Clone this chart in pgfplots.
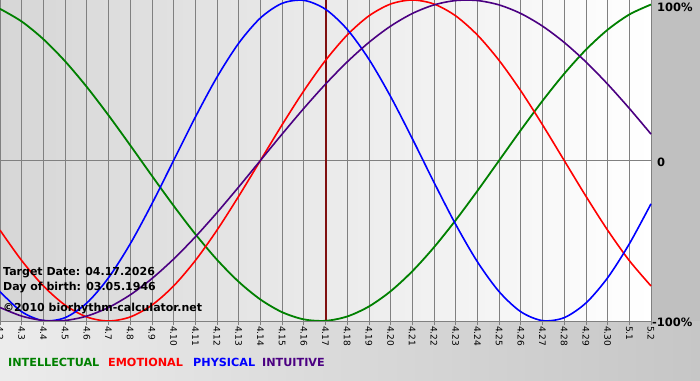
\documentclass[border=0pt]{standalone}
\usepackage{fontspec}
\setmainfont{DejaVu Sans}
\usepackage{pgfplots}
\pgfplotsset{compat=1.18}
\definecolor{intel}{RGB}{0,128,0}
\definecolor{emot}{RGB}{255,0,0}
\definecolor{phys}{RGB}{0,0,255}
\definecolor{intu}{RGB}{75,0,130}
\definecolor{tline}{RGB}{128,16,16}
\definecolor{gridc}{RGB}{128,128,128}
\definecolor{plotleft}{RGB}{214,214,214}
\definecolor{strip}{RGB}{192,192,192}
\definecolor{bandleft}{RGB}{236,236,236}
\definecolor{bandright}{RGB}{198,198,198}
\begin{document}
\begin{tikzpicture}
\path[use as bounding box] (0,0) rectangle (700pt,380pt);
\shade[left color=bandleft, right color=bandright] (0,0) rectangle (700pt,59pt);
\fill[strip] (651pt,59pt) rectangle (700pt,380pt);
\shade[left color=plotleft, right color=white] (0pt,59pt) rectangle (651pt,380pt);
\begin{axis}[
  at={(0pt,59pt)}, anchor=south west,
  width=651pt, height=321pt, scale only axis,
  xmin=0, xmax=30, ymin=-100, ymax=100,
  axis line style={draw=none},
  xtick={0,...,30},
  xticklabels={4.2,4.3,4.4,4.5,4.6,4.7,4.8,4.9,4.10,4.11,4.12,4.13,4.14,4.15,4.16,4.17,4.18,4.19,4.20,4.21,4.22,4.23,4.24,4.25,4.26,4.27,4.28,4.29,4.30,5.1,5.2},
  xtick pos=bottom, tick align=outside, major tick length=4pt,
  xtick style={gridc, line width=0.8pt},
  x tick label style={rotate=-90, anchor=west, font=\fontsize{9}{9}\selectfont, inner sep=1pt},
  ytick={0}, yticklabels={}, ytick style={draw=none},
  grid=major, grid style={gridc, line width=0.8pt},
  extra x ticks={15}, extra x tick labels={},
  extra x tick style={grid style={tline, line width=2pt}, major tick length=0pt},
  clip=false,
]
% INTELLECTUAL (33 days)
\addplot[intel, line width=1.8pt, smooth] coordinates {
(0,94.50) (1,86.60) (2,75.57) (3,61.82) (4,45.82) (5,28.17) (6,9.51) (7,-9.51)
(8,-28.17) (9,-45.82) (10,-61.82) (11,-75.57) (12,-86.60) (13,-94.50) (14,-98.98)
(15,-99.89) (16,-97.18) (17,-90.96) (18,-81.46) (19,-69.01) (20,-54.06) (21,-37.17)
(22,-18.93) (23,0) (24,18.93) (25,37.17) (26,54.06) (27,69.01) (28,81.46) (29,90.96) (30,97.18)};
% EMOTIONAL (28 days)
\addplot[emot, line width=1.6pt, smooth] coordinates {
(0,-43.39) (1,-62.35) (2,-78.18) (3,-90.10) (4,-97.49) (5,-100) (6,-97.49) (7,-90.10)
(8,-78.18) (9,-62.35) (10,-43.39) (11,-22.25) (12,0) (13,22.25) (14,43.39) (15,62.35)
(16,78.18) (17,90.10) (18,97.49) (19,100) (20,97.49) (21,90.10) (22,78.18) (23,62.35)
(24,43.39) (25,22.25) (26,0) (27,-22.25) (28,-43.39) (29,-62.35) (30,-78.18)};
% PHYSICAL (23 days)
\addplot[phys, line width=1.6pt, smooth] coordinates {
(0,-81.70) (1,-94.23) (2,-99.77) (3,-97.91) (4,-88.79) (5,-73.08) (6,-51.96) (7,-26.98)
(8,0) (9,26.98) (10,51.96) (11,73.08) (12,88.79) (13,97.91) (14,99.77) (15,94.23)
(16,81.70) (17,63.11) (18,39.84) (19,13.62) (20,-13.62) (21,-39.84) (22,-63.11)
(23,-81.70) (24,-94.23) (25,-99.77) (26,-97.91) (27,-88.79) (28,-73.08) (29,-51.96) (30,-26.98)};
% INTUITIVE (38 days)
\addplot[intu, line width=1.6pt, smooth] coordinates {
(0,-91.58) (1,-96.94) (2,-99.66) (3,-99.66) (4,-96.94) (5,-91.58) (6,-83.72) (7,-73.57)
(8,-61.42) (9,-47.59) (10,-32.47) (11,-16.46) (12,0) (13,16.46) (14,32.47) (15,47.59)
(16,61.42) (17,73.57) (18,83.72) (19,91.58) (20,96.94) (21,99.66) (22,99.66) (23,96.94)
(24,91.58) (25,83.72) (26,73.57) (27,61.42) (28,47.59) (29,32.47) (30,16.46)};
\draw[gridc, line width=0.8pt] (rel axis cs:0,0) -- (rel axis cs:1,0);
\end{axis}
% right-side labels
\node[anchor=west, font=\bfseries\fontsize{11.5}{11.5}\selectfont, inner sep=0pt] at (657pt,373pt) {100\%};
\node[anchor=west, font=\bfseries\fontsize{11.5}{11.5}\selectfont, inner sep=0pt] at (657pt,218pt) {0};
\node[anchor=west, font=\bfseries\fontsize{11.5}{11.5}\selectfont, inner sep=0pt] at (652pt,58pt) {-100\%};
% info text
\node[anchor=base west, font=\bfseries\fontsize{11}{11}\selectfont, inner sep=0pt] at (3pt,105pt) {Target Date: 04.17.2026};
\node[anchor=base west, font=\bfseries\fontsize{11}{11}\selectfont, inner sep=0pt] at (3pt,90pt) {Day of birth: 03.05.1946};
\node[anchor=base west, font=\bfseries\fontsize{11}{11}\selectfont, inner sep=0pt] at (3pt,69pt) {©2010 biorhythm-calculator.net};
% legend
\node[anchor=base west, font=\bfseries\fontsize{11.2}{11}\selectfont, inner sep=0pt, text=intel] at (8pt,14pt) {INTELLECTUAL};
\node[anchor=base west, font=\bfseries\fontsize{11.2}{11}\selectfont, inner sep=0pt, text=emot] at (108pt,14pt) {EMOTIONAL};
\node[anchor=base west, font=\bfseries\fontsize{11.2}{11}\selectfont, inner sep=0pt, text=phys] at (193pt,14pt) {PHYSICAL};
\node[anchor=base west, font=\bfseries\fontsize{11.2}{11}\selectfont, inner sep=0pt, text=intu] at (262pt,14pt) {INTUITIVE};
\end{tikzpicture}
\end{document}
